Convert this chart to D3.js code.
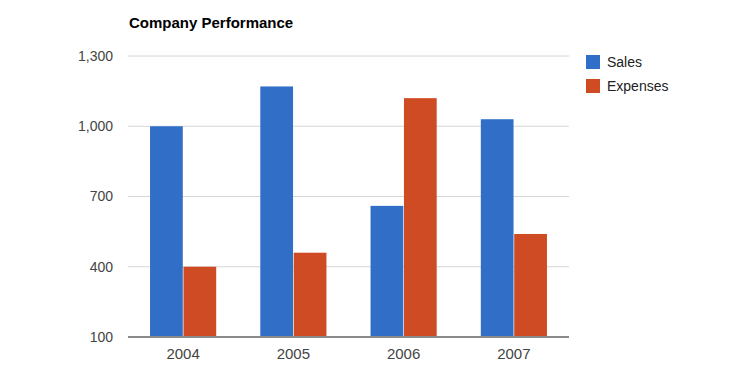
<!DOCTYPE html>
<html>
<head>
<meta charset="UTF-8">
<title>Company Performance</title>
<script src="https://d3js.org/d3.v7.min.js"></script>
<style>
    body { margin: 0; background: #fff; }
    text { font-family: Arial, "Liberation Sans", sans-serif; }
    .tick text { fill: #444; font-size: 14px; }
</style>
</head>
<body>
<script>
    var years = ["2004", "2005", "2006", "2007"];
    var sales = [1000, 1170, 660, 1030];
    var expenses = [400, 460, 1120, 540];
    var seriesNames = ["Sales", "Expenses"];
    var colors = ["#306ec8", "#cf4b24"];
    var yTicks = [100, 400, 700, 1000, 1300];

    var W = 750, H = 375;
    var mLeft = 128, mRight = 569, mTop = 56, mBottom = 337;

    var svg = d3.select("body").append("svg")
        .attr("width", W).attr("height", H);

    var x = d3.scaleBand().domain(years).range([mLeft, mRight]).paddingInner(0.4).paddingOuter(0.2);
    var xs = d3.scaleBand().domain(seriesNames).range([0, x.bandwidth()]).paddingInner(0.02);
    var y = d3.scaleLinear().domain([100, 1300]).range([mBottom, mTop]);

    // gridlines
    svg.append("g").selectAll("line").data(yTicks.slice(1)).enter().append("line")
        .attr("x1", mLeft).attr("x2", mRight)
        .attr("y1", function(d){ return y(d); }).attr("y2", function(d){ return y(d); })
        .attr("stroke", "#d6d6d6").attr("stroke-width", 1);

    // y axis labels
    var yAxis = d3.axisLeft(y).tickValues(yTicks).tickSize(0).tickPadding(15)
        .tickFormat(d3.format(","));
    svg.append("g").attr("transform", "translate(" + mLeft + ",0)").call(yAxis)
        .call(function(g){ g.select(".domain").remove(); });

    // bars
    var rows = years.map(function(yr, i){ return {year: yr, vals: [sales[i], expenses[i]]}; });
    var groups = svg.append("g").selectAll("g").data(rows).enter().append("g")
        .attr("transform", function(d){ return "translate(" + x(d.year) + ",0)"; });
    groups.selectAll("rect").data(function(d){
            return d.vals.map(function(v, j){ return {name: seriesNames[j], v: v, j: j}; });
        }).enter().append("rect")
        .attr("x", function(d){ return xs(d.name); })
        .attr("width", xs.bandwidth())
        .attr("y", function(d){ return y(d.v); })
        .attr("height", function(d){ return mBottom - y(d.v); })
        .attr("fill", function(d){ return colors[d.j]; });

    // baseline
    svg.append("line").attr("x1", mLeft).attr("x2", mRight)
        .attr("y1", mBottom).attr("y2", mBottom)
        .attr("stroke", "#8a8a8a").attr("stroke-width", 2);

    // x axis labels
    var xAxis = d3.axisBottom(x).tickSize(0).tickPadding(10);
    svg.append("g").attr("transform", "translate(0," + (mBottom + 1) + ")").call(xAxis)
        .call(function(g){ g.select(".domain").remove(); })
        .selectAll("text").attr("fill", "#222").style("font-size", "15px");

    // title
    svg.append("text").attr("x", 129).attr("y", 28)
        .attr("font-size", "15px").attr("font-weight", "bold").attr("fill", "#000")
        .text("Company Performance");

    // legend
    var leg = svg.append("g").selectAll("g").data(seriesNames).enter().append("g")
        .attr("transform", function(d, i){ return "translate(586," + (55 + i * 24) + ")"; });
    leg.append("rect").attr("width", 14).attr("height", 14)
        .attr("fill", function(d, i){ return colors[i]; });
    leg.append("text").attr("x", 21).attr("y", 12)
        .attr("font-size", "14px").attr("fill", "#222")
        .text(function(d){ return d; });
</script>
</body>
</html>
